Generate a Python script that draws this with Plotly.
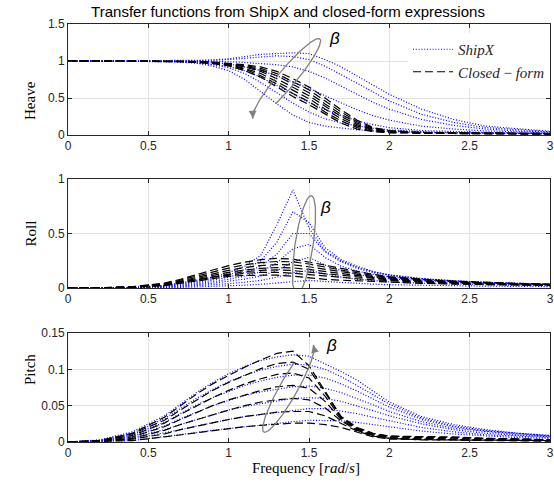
import numpy as np
import plotly.graph_objects as go
from plotly.subplots import make_subplots

# ---------------- data ----------------
freq = [0, 0.2, 0.4, 0.6, 0.7, 0.8, 0.9, 1.0, 1.1, 1.2, 1.3, 1.4, 1.5,
        1.6, 1.7, 1.8, 1.9, 2.0, 2.2, 2.4, 2.6, 2.8, 3.0]

heave_shipx = [
    [1.0, 1.0, 1.0, 1.0, 1.0, 1.005, 1.015, 1.03, 1.06, 1.09, 1.10, 1.11, 1.10, 1.02, 0.92, 0.80, 0.67, 0.55, 0.35, 0.21, 0.12, 0.08, 0.05],
    [1.0, 1.0, 1.0, 1.0, 1.0, 1.003, 1.01, 1.02, 1.04, 1.06, 1.07, 1.06, 1.02, 0.93, 0.82, 0.70, 0.58, 0.46, 0.28, 0.17, 0.10, 0.07, 0.045],
    [1.0, 1.0, 1.0, 1.0, 0.999, 0.998, 0.997, 0.99, 0.98, 0.97, 0.95, 0.92, 0.86, 0.77, 0.66, 0.55, 0.44, 0.35, 0.21, 0.13, 0.08, 0.055, 0.04],
    [1.0, 1.0, 1.0, 1.0, 0.997, 0.99, 0.98, 0.96, 0.92, 0.87, 0.80, 0.72, 0.63, 0.53, 0.43, 0.34, 0.26, 0.20, 0.12, 0.08, 0.055, 0.04, 0.03],
    [1.0, 1.0, 1.0, 0.998, 0.993, 0.98, 0.96, 0.93, 0.87, 0.78, 0.67, 0.55, 0.44, 0.34, 0.26, 0.19, 0.14, 0.10, 0.06, 0.045, 0.035, 0.028, 0.022],
    [1.0, 1.0, 1.0, 0.997, 0.99, 0.975, 0.95, 0.91, 0.83, 0.71, 0.57, 0.43, 0.31, 0.22, 0.16, 0.12, 0.09, 0.07, 0.045, 0.033, 0.027, 0.022, 0.018],
    [1.0, 1.0, 1.0, 0.995, 0.985, 0.97, 0.93, 0.87, 0.75, 0.58, 0.42, 0.27, 0.17, 0.12, 0.09, 0.07, 0.055, 0.045, 0.035, 0.028, 0.022, 0.018, 0.015],
]
heave_closed = [
    [1.0, 1.0, 1.0, 1.0, 1.0, 0.995, 0.985, 0.97, 0.95, 0.92, 0.86, 0.76, 0.65, 0.50, 0.34, 0.20, 0.10, 0.06, 0.035, 0.03, 0.025, 0.022, 0.02],
    [1.0, 1.0, 1.0, 1.0, 0.998, 0.993, 0.982, 0.965, 0.94, 0.90, 0.83, 0.72, 0.61, 0.46, 0.31, 0.18, 0.09, 0.055, 0.033, 0.028, 0.024, 0.021, 0.02],
    [1.0, 1.0, 1.0, 1.0, 0.997, 0.991, 0.979, 0.96, 0.93, 0.88, 0.80, 0.68, 0.57, 0.42, 0.28, 0.16, 0.08, 0.05, 0.03, 0.026, 0.022, 0.02, 0.018],
    [1.0, 1.0, 1.0, 0.999, 0.996, 0.989, 0.976, 0.955, 0.92, 0.86, 0.76, 0.64, 0.53, 0.39, 0.25, 0.14, 0.07, 0.045, 0.028, 0.024, 0.021, 0.019, 0.017],
    [1.0, 1.0, 1.0, 0.999, 0.995, 0.987, 0.973, 0.95, 0.90, 0.83, 0.72, 0.60, 0.49, 0.35, 0.22, 0.12, 0.06, 0.04, 0.026, 0.022, 0.02, 0.018, 0.016],
    [1.0, 1.0, 1.0, 0.998, 0.993, 0.985, 0.97, 0.94, 0.89, 0.80, 0.69, 0.56, 0.45, 0.31, 0.19, 0.10, 0.05, 0.035, 0.024, 0.02, 0.018, 0.016, 0.015],
    [1.0, 1.0, 1.0, 0.997, 0.991, 0.982, 0.966, 0.935, 0.87, 0.78, 0.65, 0.52, 0.41, 0.28, 0.16, 0.08, 0.045, 0.03, 0.022, 0.018, 0.016, 0.015, 0.014],
]
roll_shipx = [
    [0, 0.001, 0.006, 0.025, 0.045, 0.07, 0.10, 0.14, 0.20, 0.30, 0.58, 0.90, 0.55, 0.34, 0.25, 0.19, 0.15, 0.12, 0.085, 0.064, 0.05, 0.04, 0.034],
    [0, 0.001, 0.005, 0.021, 0.038, 0.06, 0.086, 0.12, 0.17, 0.25, 0.42, 0.70, 0.60, 0.37, 0.26, 0.20, 0.15, 0.12, 0.087, 0.066, 0.052, 0.042, 0.035],
    [0, 0.001, 0.004, 0.017, 0.031, 0.05, 0.072, 0.10, 0.14, 0.20, 0.31, 0.50, 0.50, 0.33, 0.24, 0.18, 0.14, 0.115, 0.083, 0.063, 0.05, 0.04, 0.034],
    [0, 0.0008, 0.003, 0.013, 0.024, 0.04, 0.057, 0.08, 0.11, 0.15, 0.23, 0.36, 0.40, 0.28, 0.20, 0.155, 0.125, 0.10, 0.075, 0.058, 0.046, 0.038, 0.032],
    [0, 0.0006, 0.002, 0.01, 0.018, 0.03, 0.043, 0.06, 0.082, 0.11, 0.16, 0.24, 0.28, 0.21, 0.16, 0.125, 0.10, 0.085, 0.065, 0.05, 0.04, 0.034, 0.029],
    [0, 0.0004, 0.0015, 0.006, 0.012, 0.02, 0.028, 0.04, 0.053, 0.07, 0.10, 0.14, 0.16, 0.13, 0.10, 0.08, 0.066, 0.056, 0.044, 0.035, 0.029, 0.025, 0.021],
    [0, 0.0002, 0.001, 0.003, 0.006, 0.01, 0.014, 0.02, 0.026, 0.034, 0.045, 0.06, 0.07, 0.06, 0.05, 0.042, 0.035, 0.03, 0.024, 0.02, 0.017, 0.015, 0.013],
]
roll_closed = [
    [0, 0.001, 0.012, 0.045, 0.08, 0.125, 0.165, 0.205, 0.237, 0.26, 0.272, 0.265, 0.24, 0.21, 0.18, 0.15, 0.125, 0.105, 0.08, 0.063, 0.05, 0.042, 0.035],
    [0, 0.001, 0.011, 0.04, 0.072, 0.11, 0.147, 0.183, 0.213, 0.233, 0.243, 0.24, 0.22, 0.19, 0.165, 0.14, 0.115, 0.097, 0.074, 0.058, 0.047, 0.039, 0.033],
    [0, 0.001, 0.01, 0.036, 0.064, 0.098, 0.131, 0.162, 0.188, 0.206, 0.215, 0.212, 0.195, 0.17, 0.148, 0.127, 0.105, 0.09, 0.068, 0.054, 0.044, 0.036, 0.031],
    [0, 0.001, 0.009, 0.032, 0.058, 0.088, 0.117, 0.144, 0.165, 0.18, 0.188, 0.185, 0.17, 0.15, 0.13, 0.112, 0.095, 0.081, 0.062, 0.05, 0.041, 0.034, 0.029],
    [0, 0.001, 0.008, 0.029, 0.053, 0.081, 0.108, 0.132, 0.15, 0.162, 0.166, 0.16, 0.146, 0.128, 0.112, 0.098, 0.085, 0.074, 0.057, 0.046, 0.038, 0.032, 0.027],
    [0, 0.0005, 0.007, 0.026, 0.048, 0.074, 0.099, 0.12, 0.135, 0.143, 0.143, 0.136, 0.122, 0.108, 0.096, 0.085, 0.075, 0.066, 0.053, 0.043, 0.036, 0.031, 0.027],
    [0, 0.0005, 0.006, 0.022, 0.042, 0.065, 0.087, 0.106, 0.116, 0.12, 0.118, 0.108, 0.092, 0.08, 0.072, 0.065, 0.058, 0.052, 0.043, 0.036, 0.031, 0.027, 0.023],
]
pitch_shipx = [
    [0, 0.003, 0.014, 0.036, 0.052, 0.068, 0.082, 0.094, 0.104, 0.112, 0.117, 0.12, 0.118, 0.108, 0.097, 0.085, 0.07, 0.055, 0.035, 0.024, 0.017, 0.012, 0.009],
    [0, 0.0025, 0.012, 0.032, 0.046, 0.06, 0.072, 0.083, 0.092, 0.099, 0.104, 0.107, 0.106, 0.10, 0.09, 0.078, 0.065, 0.052, 0.033, 0.022, 0.016, 0.012, 0.009],
    [0, 0.002, 0.01, 0.027, 0.039, 0.051, 0.061, 0.07, 0.078, 0.084, 0.089, 0.092, 0.092, 0.088, 0.08, 0.07, 0.059, 0.048, 0.031, 0.021, 0.015, 0.011, 0.008],
    [0, 0.0016, 0.008, 0.022, 0.032, 0.041, 0.05, 0.057, 0.064, 0.069, 0.073, 0.076, 0.077, 0.074, 0.068, 0.06, 0.051, 0.042, 0.028, 0.019, 0.014, 0.01, 0.008],
    [0, 0.0012, 0.006, 0.017, 0.024, 0.031, 0.038, 0.044, 0.049, 0.053, 0.057, 0.06, 0.061, 0.06, 0.056, 0.05, 0.043, 0.036, 0.025, 0.017, 0.012, 0.009, 0.007],
    [0, 0.0008, 0.004, 0.012, 0.017, 0.022, 0.027, 0.031, 0.035, 0.038, 0.041, 0.044, 0.046, 0.046, 0.043, 0.039, 0.034, 0.029, 0.02, 0.014, 0.01, 0.008, 0.006],
    [0, 0.0004, 0.002, 0.007, 0.01, 0.013, 0.016, 0.019, 0.021, 0.023, 0.026, 0.028, 0.03, 0.03, 0.029, 0.027, 0.024, 0.021, 0.015, 0.011, 0.008, 0.006, 0.005],
]
pitch_closed = [
    [0, 0.002, 0.012, 0.034, 0.05, 0.066, 0.08, 0.092, 0.103, 0.113, 0.122, 0.125, 0.105, 0.07, 0.035, 0.02, 0.012, 0.008, 0.008, 0.007, 0.005, 0.004, 0.003],
    [0, 0.002, 0.011, 0.03, 0.044, 0.058, 0.071, 0.082, 0.092, 0.101, 0.108, 0.11, 0.10, 0.068, 0.034, 0.019, 0.011, 0.008, 0.007, 0.006, 0.005, 0.004, 0.003],
    [0, 0.0015, 0.009, 0.026, 0.038, 0.05, 0.061, 0.071, 0.08, 0.087, 0.093, 0.095, 0.088, 0.063, 0.033, 0.018, 0.01, 0.007, 0.006, 0.005, 0.004, 0.003, 0.003],
    [0, 0.0012, 0.007, 0.021, 0.031, 0.041, 0.05, 0.058, 0.065, 0.071, 0.076, 0.078, 0.074, 0.056, 0.031, 0.017, 0.009, 0.006, 0.005, 0.004, 0.003, 0.003, 0.002],
    [0, 0.001, 0.005, 0.016, 0.024, 0.031, 0.038, 0.044, 0.05, 0.055, 0.058, 0.06, 0.058, 0.047, 0.029, 0.016, 0.009, 0.005, 0.004, 0.003, 0.003, 0.002, 0.002],
    [0, 0.0007, 0.004, 0.011, 0.017, 0.022, 0.027, 0.031, 0.035, 0.038, 0.041, 0.042, 0.042, 0.036, 0.026, 0.015, 0.008, 0.005, 0.003, 0.003, 0.002, 0.002, 0.002],
    [0, 0.0005, 0.002, 0.007, 0.01, 0.013, 0.016, 0.018, 0.021, 0.023, 0.025, 0.026, 0.026, 0.024, 0.02, 0.013, 0.007, 0.004, 0.003, 0.002, 0.002, 0.002, 0.001],
]

panel_names = ["Heave", "Roll", "Pitch"]
x_ticks = [0, 0.5, 1, 1.5, 2, 2.5, 3]
y_ticks = [[0, 0.5, 1, 1.5], [0, 0.5, 1], [0, 0.05, 0.1, 0.15]]
y_ticktext = [["0", "0.5", "1", "1.5"], ["0", "0.5", "1"], ["0", "0.05", "0.1", "0.15"]]
y_ranges = [[0, 1.5], [0, 1], [0, 0.15]]

# ---------------- figure ----------------
W, H = 554, 491
ML, MR, MT, MB = 68, 4, 24, 49
PW, PH = W - ML - MR, H - MT - MB
panel_px = [(24, 135), (179, 288), (333, 442)]  # top, bottom pixel rows


def frac(py):
    return (H - MB - py) / PH


fig = make_subplots(rows=3, cols=1)

BLUE = "#0000ff"
TICK_FONT = dict(family="Liberation Sans, Arial, sans-serif", size=12, color="#262626")
SERIF = "Liberation Serif, Times New Roman, serif"

families = [(heave_shipx, heave_closed), (roll_shipx, roll_closed), (pitch_shipx, pitch_closed)]
for r, (ship, closed) in enumerate(families, start=1):
    for i, ys in enumerate(ship):
        fig.add_trace(go.Scatter(x=freq, y=ys, mode="lines",
                                 line=dict(color=BLUE, width=1.2, dash="1px,1.8px"),
                                 name="<i>ShipX</i>", legendgroup="s",
                                 showlegend=(r == 1 and i == 0)), row=r, col=1)
    for i, ys in enumerate(closed):
        fig.add_trace(go.Scatter(x=freq, y=ys, mode="lines",
                                 line=dict(color="black", width=1.2, dash="8px,4px"),
                                 name="<i>Closed</i> − <i>form</i>", legendgroup="c",
                                 showlegend=(r == 1 and i == 0)), row=r, col=1)

# gray ellipse arrows marking the beta direction (decoration)
SX = PW / 3.0
sy_list = [(panel_px[k][1] - panel_px[k][0]) / (y_ranges[k][1] - y_ranges[k][0]) for k in range(3)]


def ellipse_arc(cx, cy, a_px, b_px, ang_deg, t0, t1, sy, n=160):
    t = np.radians(np.linspace(t0, t1, n))
    th = np.radians(ang_deg)
    dx = a_px * np.cos(t) * np.cos(th) - b_px * np.sin(t) * np.sin(th)
    dy = a_px * np.cos(t) * np.sin(th) + b_px * np.sin(t) * np.cos(th)
    return cx + dx / SX, cy + dy / sy


ellipses = [
    # center x, center y (data), semi-major px, semi-minor px, angle, t0, t1
    (1.36, 0.76, 52, 9, 50, -120, 180),
    (1.469, 0.394, 50, 9, 81.5, -150, 180),
    (1.372, 0.0736, 50, 9, 60.5, 60, 360),
]
beta_pos = [(1.66, 1.31), (1.60, 0.74), (1.64, 0.133)]
GRAY = "#808080"
for k, (cx, cy, a, b, ang, t0, t1) in enumerate(ellipses):
    ex, ey = ellipse_arc(cx, cy, a, b, ang, t0, t1, sy_list[k])
    fig.add_trace(go.Scatter(x=ex, y=ey, mode="lines", line=dict(color=GRAY, width=1.3),
                             showlegend=False, hoverinfo="skip"), row=k + 1, col=1)
    xr = "x" if k == 0 else f"x{k + 1}"
    yr = "y" if k == 0 else f"y{k + 1}"
    fig.add_annotation(x=ex[-1], y=ey[-1], ax=ex[-12], ay=ey[-12], xref=xr, yref=yr,
                       axref=xr, ayref=yr, text="", showarrow=True, arrowhead=2,
                       arrowsize=1.2, arrowwidth=1.3, arrowcolor=GRAY)
    bx, by = beta_pos[k]
    fig.add_annotation(x=bx, y=by, xref=xr, yref=yr, text="<i>β</i>", showarrow=False,
                       font=dict(family="Liberation Sans, Arial, sans-serif", size=17, color="black"))

for k in range(3):
    top, bot = panel_px[k]
    ax_suffix = "" if k == 0 else str(k + 1)
    fig.layout["yaxis" + ax_suffix].update(
        domain=[frac(bot), frac(top)], range=y_ranges[k], tickvals=y_ticks[k],
        ticktext=y_ticktext[k], showline=True, linecolor="#262626", linewidth=1,
        mirror="ticks", ticks="inside", ticklen=4, tickcolor="#262626",
        showgrid=True, gridcolor="#e3e3e3", gridwidth=1, zeroline=False,
        tickfont=TICK_FONT, fixedrange=True)
    fig.layout["xaxis" + ax_suffix].update(
        domain=[0, 1], range=[0, 3], tickvals=x_ticks,
        ticktext=[str(v) for v in x_ticks], showline=True, linecolor="#262626",
        linewidth=1, mirror="ticks", ticks="inside", ticklen=4, tickcolor="#262626",
        showgrid=True, gridcolor="#e3e3e3", gridwidth=1, zeroline=False,
        tickfont=TICK_FONT, fixedrange=True, automargin=False)
    fig.add_annotation(x=(20 - ML) / PW, y=frac((top + bot) / 2), xref="paper", yref="paper",
                       text=panel_names[k], textangle=-90, showarrow=False,
                       font=dict(family=SERIF, size=15, color="black"))

fig.add_annotation(x=(306 - ML) / PW, y=frac(478), xref="paper", yref="paper",
                   text="Frequency [<i>rad</i>/<i>s</i>]", showarrow=False,
                   font=dict(family=SERIF, size=15, color="black"))

fig.update_layout(
    width=W, height=H, margin=dict(l=ML, r=MR, t=MT, b=MB),
    plot_bgcolor="white", paper_bgcolor="white",
    title=dict(text="Transfer functions from ShipX and closed-form expressions",
               x=288 / W, xanchor="center", y=1 - 12 / H, yanchor="middle",
               font=dict(family="Liberation Sans, Arial, sans-serif", size=15, color="black")),
    legend=dict(x=(408 - ML) / PW, y=frac(33), xanchor="left", yanchor="top",
                bgcolor="white", borderwidth=0, itemwidth=40, tracegroupgap=0,
                font=dict(family=SERIF, size=15, color="#262626")),
    showlegend=True,
)

fig.write_html("out.html", config={"displayModeBar": False},
               post_script="document.body.style.margin='0';document.body.style.padding='0';")
